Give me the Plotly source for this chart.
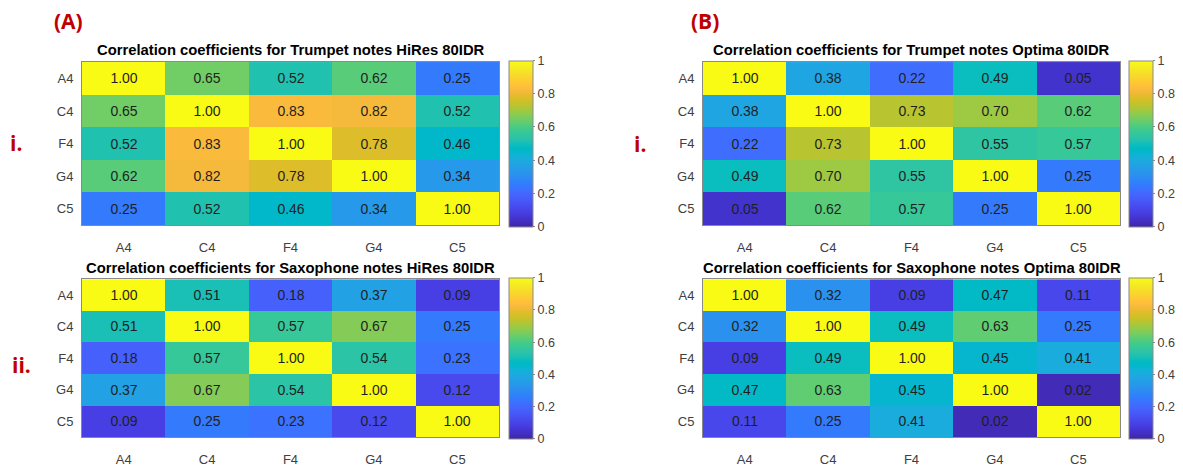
import plotly.graph_objects as go

notes = ["A4", "C4", "F4", "G4", "C5"]

trumpet_hires = [
    [1.00, 0.65, 0.52, 0.62, 0.25],
    [0.65, 1.00, 0.83, 0.82, 0.52],
    [0.52, 0.83, 1.00, 0.78, 0.46],
    [0.62, 0.82, 0.78, 1.00, 0.34],
    [0.25, 0.52, 0.46, 0.34, 1.00],
]
sax_hires = [
    [1.00, 0.51, 0.18, 0.37, 0.09],
    [0.51, 1.00, 0.57, 0.67, 0.25],
    [0.18, 0.57, 1.00, 0.54, 0.23],
    [0.37, 0.67, 0.54, 1.00, 0.12],
    [0.09, 0.25, 0.23, 0.12, 1.00],
]
trumpet_optima = [
    [1.00, 0.38, 0.22, 0.49, 0.05],
    [0.38, 1.00, 0.73, 0.70, 0.62],
    [0.22, 0.73, 1.00, 0.55, 0.57],
    [0.49, 0.70, 0.55, 1.00, 0.25],
    [0.05, 0.62, 0.57, 0.25, 1.00],
]
sax_optima = [
    [1.00, 0.32, 0.09, 0.47, 0.11],
    [0.32, 1.00, 0.49, 0.63, 0.25],
    [0.09, 0.49, 1.00, 0.45, 0.41],
    [0.47, 0.63, 0.45, 1.00, 0.02],
    [0.11, 0.25, 0.41, 0.02, 1.00],
]

titles = [
    "Correlation coefficients for Trumpet notes HiRes 80IDR",
    "Correlation coefficients for Saxophone notes HiRes 80IDR",
    "Correlation coefficients for Trumpet notes Optima 80IDR",
    "Correlation coefficients for Saxophone notes Optima 80IDR",
]
colorbar_ticks = [0, 0.2, 0.4, 0.6, 0.8, 1]

# MATLAB parula colormap (64 entries)
parula = [
    (0.2422, 0.1504, 0.6603), (0.2504, 0.1650, 0.7076), (0.2578, 0.1818, 0.7511), (0.2647, 0.1978, 0.7952),
    (0.2706, 0.2147, 0.8364), (0.2751, 0.2342, 0.8710), (0.2783, 0.2559, 0.8991), (0.2803, 0.2782, 0.9221),
    (0.2813, 0.3006, 0.9414), (0.2810, 0.3228, 0.9579), (0.2795, 0.3447, 0.9717), (0.2760, 0.3667, 0.9829),
    (0.2699, 0.3892, 0.9906), (0.2602, 0.4123, 0.9952), (0.2440, 0.4358, 0.9988), (0.2206, 0.4603, 0.9973),
    (0.1963, 0.4847, 0.9892), (0.1834, 0.5074, 0.9798), (0.1786, 0.5289, 0.9682), (0.1764, 0.5499, 0.9520),
    (0.1687, 0.5703, 0.9359), (0.1540, 0.5902, 0.9218), (0.1460, 0.6091, 0.9079), (0.1380, 0.6276, 0.8973),
    (0.1248, 0.6459, 0.8883), (0.1113, 0.6635, 0.8763), (0.0952, 0.6798, 0.8598), (0.0689, 0.6948, 0.8394),
    (0.0297, 0.7082, 0.8163), (0.0036, 0.7203, 0.7917), (0.0067, 0.7312, 0.7660), (0.0433, 0.7411, 0.7394),
    (0.0964, 0.7500, 0.7120), (0.1408, 0.7584, 0.6842), (0.1717, 0.7670, 0.6554), (0.1938, 0.7758, 0.6251),
    (0.2161, 0.7843, 0.5923), (0.2470, 0.7918, 0.5567), (0.2906, 0.7973, 0.5188), (0.3406, 0.8008, 0.4789),
    (0.3909, 0.8029, 0.4354), (0.4456, 0.8024, 0.3909), (0.5044, 0.7993, 0.3480), (0.5616, 0.7942, 0.3045),
    (0.6174, 0.7876, 0.2612), (0.6720, 0.7793, 0.2227), (0.7242, 0.7698, 0.1910), (0.7738, 0.7598, 0.1646),
    (0.8203, 0.7498, 0.1535), (0.8634, 0.7406, 0.1596), (0.9035, 0.7330, 0.1774), (0.9393, 0.7288, 0.2100),
    (0.9728, 0.7298, 0.2394), (0.9956, 0.7434, 0.2371), (0.9970, 0.7659, 0.2199), (0.9952, 0.7893, 0.2028),
    (0.9892, 0.8136, 0.1885), (0.9786, 0.8386, 0.1766), (0.9676, 0.8639, 0.1643), (0.9610, 0.8890, 0.1537),
    (0.9597, 0.9135, 0.1423), (0.9628, 0.9373, 0.1265), (0.9691, 0.9606, 0.1064), (0.9769, 0.9839, 0.0805),
]
n = len(parula)
colorscale = [
    [i / (n - 1), "rgb(%d,%d,%d)" % (round(r * 255), round(g * 255), round(b * 255))]
    for i, (r, g, b) in enumerate(parula)
]

# the page body has an 8px default margin; work in screen pixels and shift
OFF = 8
W, H = 1183 - OFF, 467 - OFF
FONT = "Liberation Sans, Arial, sans-serif"
TXT = "#1f1f1f"
TICK = "#404040"
BORDER = "#8a8a8a"
RED = "#c00000"


def px(x):
    return (x - OFF) / W


def py(y):
    return 1 - (y - OFF) / H


# screen-pixel layout of panels: (x0, x1, y_top, y_bottom, colorbar_x, title_y)
panels = [
    (trumpet_hires, titles[0], 82, 499, 63, 229, 509, 51),
    (sax_hires, titles[1], 82, 499, 284, 445, 509, 273),
    (trumpet_optima, titles[2], 703, 1120, 63, 229, 1129, 51),
    (sax_optima, titles[3], 703, 1120, 284, 445, 1129, 273),
]

fig = go.Figure()
annotations = []
for k, (z, title, x0, x1, yt, yb, cbx, ty) in enumerate(panels):
    idx = "" if k == 0 else str(k + 1)
    xa, ya = "x" + idx, "y" + idx
    fig.add_trace(go.Heatmap(
        z=z, x=notes, y=notes,
        xaxis=xa, yaxis=ya,
        colorscale=colorscale, zmin=0, zmax=1,
        texttemplate="%{z:.2f}",
        textfont=dict(family=FONT, size=14, color=TXT),
        hovertemplate="%{y} vs %{x}: %{z:.2f}<extra></extra>",
        colorbar=dict(
            x=px(cbx), xanchor="left", xref="paper",
            y=py((yt + yb) / 2), yanchor="middle",
            len=(yb - yt), lenmode="pixels",
            thickness=24, thicknessmode="pixels",
            outlinecolor=BORDER, outlinewidth=1,
            tickvals=colorbar_ticks, ticktext=[("%g" % v) for v in colorbar_ticks],
            ticks="outside", ticklen=2, tickcolor=BORDER,
            tickfont=dict(family=FONT, size=12.5, color=TICK),
            xpad=0, ypad=0,
        ),
    ))
    common = dict(showline=True, mirror=True, linecolor=BORDER, linewidth=1,
                  showgrid=False, zeroline=False, ticks="",
                  tickfont=dict(family=FONT, size=13, color=TICK))
    fig.update_layout(**{
        ("xaxis" + idx): dict(domain=[px(x0), px(x1)], anchor=ya,
                              ticklabelstandoff=10, **common),
        ("yaxis" + idx): dict(domain=[py(yb), py(yt)], anchor=xa,
                              autorange="reversed", ticklabelstandoff=5, **common),
    })
    annotations.append(dict(
        text="<b>%s</b>" % title, x=px((x0 + x1) / 2), y=py(ty),
        xref="paper", yref="paper", xanchor="center", yanchor="middle",
        showarrow=False, font=dict(family=FONT, size=14.8, color="#000000"),
    ))

for txt, lx, ly in [("(A)", 68, 21), ("(B)", 705, 21), ("i.", 16, 145), ("ii.", 21, 371), ("i.", 640, 146)]:
    annotations.append(dict(
        text="<b>%s</b>" % txt, x=px(lx), y=py(ly), xref="paper", yref="paper",
        xanchor="center", yanchor="middle", showarrow=False,
        font=dict(family="Open Sans, Liberation Sans, sans-serif", size=21, color=RED),
    ))

fig.update_layout(
    width=W, height=H, margin=dict(l=0, r=0, t=0, b=0),
    paper_bgcolor="white", plot_bgcolor="white",
    annotations=annotations, showlegend=False,
)

fig.write_html("out.html")
